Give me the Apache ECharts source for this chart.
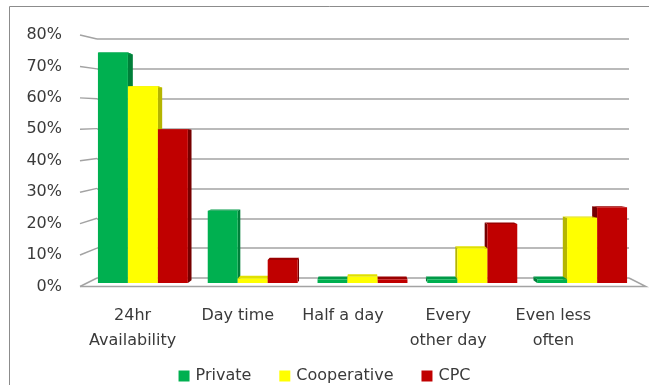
<!DOCTYPE html>
<html>
<head>
<meta charset="utf-8">
<script src="https://cdn.jsdelivr.net/npm/echarts@6/dist/echarts.min.js"></script>
<style>
  html, body { margin: 0; padding: 0; background: #ffffff; }
  #chart { width: 649px; height: 385px; }
</style>
</head>
<body>
<div id="chart"></div>
<script>
// Data
const CATEGORIES = ['24hr\nAvailability', 'Day time', 'Half a day', 'Every\nother day', 'Even less\noften'];
const SERIES_NAMES = ['Private', 'Cooperative', 'CPC'];
const PRIVATE = [75, 23.5, 1.2, 1.2, 1.2];
const COOPERATIVE = [64, 1.5, 2, 11.3, 21.2];
const CPC = [50, 7.5, 1.2, 19.2, 24.6];
const Y_TICKS = [0, 10, 20, 30, 40, 50, 60, 70, 80];
const Y_MAX = 80;

// Colours for the front, side and top faces of each series
const COLORS = ['#00b050', '#ffff00', '#c00000'];
const SIDE_COLORS = ['#007f39', '#b5b500', '#760000'];
const TOP_COLORS = ['#009a47', '#e0e000', '#9a0000'];
const LINE_COLOR = '#a3a3a3';
const TEXT_COLOR = '#3a3a3a';
const FONT = 'DejaVu Sans';

// Perspective box: back wall, front edge, and the plane the columns stand in
const WALL = { left: 97, right: 629, top: 39, bottom: 278 };
const FRONT = { left: 80, right: 646, top: 35, bottom: 286.5, labelRight: 606 };
const BARS = { left: 88, right: 637, top: 37, bottom: 283 };
const VP = { x: 362, y: 150 };   // vanishing point for column depth
const DEPTH = 0.021;
const BAR_RATIO = 0.273;

const SERIES_DATA = [PRIVATE, COOPERATIVE, CPC];

function frontY(v) { return FRONT.bottom - (FRONT.bottom - FRONT.top) * v / Y_MAX; }
function wallY(v) { return WALL.bottom - (WALL.bottom - WALL.top) * v / Y_MAX; }

function toBack(x, y) {
  return [VP.x + (x - VP.x) * (1 - DEPTH), VP.y + (y - VP.y) * (1 - DEPTH)];
}

function columnRenderer(k) {
  return function (params, api) {
    const cat = api.value(0);
    const val = api.value(1);
    const base = api.coord([cat, 0]);
    const top = api.coord([cat, val]);
    const band = api.size([1, 0])[0];
    const w = band * BAR_RATIO;
    const x0 = base[0] + (k - 1.5) * w;
    const x1 = x0 + w;
    const yT = top[1];
    const yB = base[1];
    const centre = (x0 + x1) / 2;
    const leftOfEye = centre < VP.x;
    const order = leftOfEye ? k : 2 - k;
    const z = order * 10;
    const sx = leftOfEye ? x1 : x0;
    return {
      type: 'group',
      children: [
        {
          type: 'polygon',
          z2: z,
          shape: { points: [[sx, yT], toBack(sx, yT), toBack(sx, yB), [sx, yB]] },
          style: { fill: SIDE_COLORS[k] }
        },
        {
          type: 'polygon',
          z2: z + 1,
          shape: { points: [[x0, yT], [x1, yT], toBack(x1, yT), toBack(x0, yT)] },
          style: { fill: TOP_COLORS[k] }
        },
        {
          type: 'rect',
          z2: z + 2,
          shape: { x: x0, y: yT, width: w, height: yB - yT },
          style: { fill: COLORS[k] }
        }
      ]
    };
  };
}

// Side wall tick lines and floor outline
function renderFrame() {
  const children = Y_TICKS.map(function (v) {
    return {
      type: 'line',
      shape: { x1: FRONT.left, y1: frontY(v), x2: WALL.left, y2: wallY(v) },
      style: { stroke: LINE_COLOR, lineWidth: 1.5 }
    };
  });
  children.push({
    type: 'polyline',
    shape: { points: [[FRONT.left, FRONT.bottom], [FRONT.right, FRONT.bottom], [WALL.right, WALL.bottom]] },
    style: { stroke: LINE_COLOR, lineWidth: 1.5, fill: null }
  });
  return { type: 'group', children: children };
}

const chart = echarts.init(document.getElementById('chart'), null, { renderer: 'canvas' });

const columnSeries = SERIES_NAMES.map(function (name, k) {
  return {
    name: name,
    type: 'custom',
    xAxisIndex: 1,
    yAxisIndex: 1,
    itemStyle: { color: COLORS[k] },
    renderItem: columnRenderer(k),
    data: SERIES_DATA[k].map(function (v, i) { return [i, v]; }),
    z: 3
  };
});

chart.setOption({
  animation: false,
  backgroundColor: '#ffffff',
  textStyle: { fontFamily: FONT },
  graphic: [{
    type: 'rect',
    shape: { x: 9.5, y: 6.5, width: 720, height: 420 },
    style: { fill: null, stroke: '#8c8c8c', lineWidth: 1 },
    silent: true
  }],
  legend: {
    data: SERIES_NAMES,
    left: 'center',
    top: 363,
    icon: 'rect',
    itemWidth: 11,
    itemHeight: 11,
    itemGap: 28,
    textStyle: { fontFamily: FONT, fontSize: 16, color: TEXT_COLOR, padding: [0, 0, 0, 1] }
  },
  grid: [
    { left: WALL.left, width: WALL.right - WALL.left, top: WALL.top, height: WALL.bottom - WALL.top },
    { left: BARS.left, width: BARS.right - BARS.left, top: BARS.top, height: BARS.bottom - BARS.top },
    { left: FRONT.left, width: FRONT.labelRight - FRONT.left, top: FRONT.top, height: FRONT.bottom - FRONT.top }
  ],
  xAxis: [
    { gridIndex: 0, type: 'category', data: CATEGORIES, show: false },
    { gridIndex: 1, type: 'category', data: CATEGORIES, show: false },
    {
      gridIndex: 2, type: 'category', data: CATEGORIES,
      axisLine: { show: false }, axisTick: { show: false },
      axisLabel: {
        interval: 0, margin: 17, fontFamily: FONT, fontSize: 16, color: TEXT_COLOR,
        lineHeight: 25, verticalAlign: 'top'
      }
    }
  ],
  yAxis: [
    {
      gridIndex: 0, type: 'value', min: 0, max: Y_MAX, interval: 10,
      axisLine: { show: false }, axisTick: { show: false }, axisLabel: { show: false },
      splitLine: { lineStyle: { color: LINE_COLOR, width: 1.5 } }
    },
    {
      gridIndex: 1, type: 'value', min: 0, max: Y_MAX, interval: 10, show: false,
      splitLine: { show: false }
    },
    {
      gridIndex: 2, type: 'value', min: 0, max: Y_MAX, interval: 10,
      axisLine: { show: false }, axisTick: { show: false }, splitLine: { show: false },
      axisLabel: { margin: 18, formatter: '{value}%', fontFamily: FONT, fontSize: 16, color: TEXT_COLOR }
    }
  ],
  series: [{
    type: 'custom',
    coordinateSystem: 'none',
    silent: true,
    z: 1,
    data: [0],
    renderItem: renderFrame
  }].concat(columnSeries)
});
</script>
</body>
</html>
